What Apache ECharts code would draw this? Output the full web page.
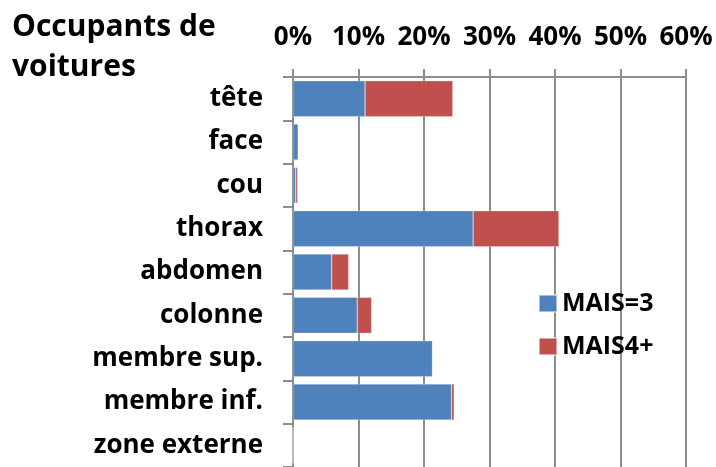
<!DOCTYPE html>
<html>
<head>
<meta charset="utf-8">
<script src="https://cdn.jsdelivr.net/npm/echarts@6/dist/echarts.min.js"></script>
<style>
html,body{margin:0;padding:0;background:#fff;}
#chart{width:716px;height:467px;}
</style>
</head>
<body>
<div id="chart"></div>
<script>
// zones du corps, de haut en bas
var zones = ['tête','face','cou','thorax','abdomen','colonne','membre sup.','membre inf.','zone externe'];
var mais3 = [11.0, 0.8, 0.4, 27.5, 5.9, 9.8, 21.3, 24.2, 0];
var mais4 = [13.4, 0, 0.3, 13.1, 2.6, 2.2, 0, 0.4, 0];
var xTicks = [0, 10, 20, 30, 40, 50, 60];

var FONT = 'Open Sans';
var GREY = '#8c8c8c';

var myChart = echarts.init(document.getElementById('chart'));
myChart.setOption({
	animation:false,
	title:{
		text:'Occupants de\nvoitures',
		left:7,
		top:2,
		textStyle:{fontFamily:FONT,fontWeight:'bold',fontSize:30,color:'#000',lineHeight:40}
	},
	legend:{
		orient:'vertical',
		left:533,
		top:286,
		itemWidth:18,
		itemHeight:17,
		itemGap:18,
		icon:'rect',
		textStyle:{fontFamily:FONT,fontWeight:'bold',fontSize:25,color:'#000'},
		data:['MAIS=3','MAIS4+']
	},
	grid:{left:293,right:30,top:77,bottom:-1},
	xAxis:{
		type:'value',
		position:'top',
		min:xTicks[0],
		max:xTicks[xTicks.length-1],
		interval:10,
		axisLine:{show:true,lineStyle:{color:GREY,width:2}},
		axisTick:{show:true,length:8,lineStyle:{color:GREY,width:2}},
		splitLine:{show:true,lineStyle:{color:GREY,width:2}},
		axisLabel:{
			formatter:'{value}%',
			margin:26,
			fontFamily:FONT,fontWeight:'bold',fontSize:26,color:'#000'
		}
	},
	yAxis:{
		type:'category',
		inverse:true,
		data:zones,
		axisLine:{show:true,lineStyle:{color:GREY,width:2}},
		axisTick:{show:true,length:10,lineStyle:{color:GREY,width:2}},
		axisLabel:{margin:30,fontFamily:FONT,fontWeight:'bold',fontSize:26,color:'#000'}
	},
	series:[
		{
			name:'MAIS=3',
			type:'bar',
			stack:'tot',
			barCategoryGap:'17%',
			itemStyle:{color:'#4F81BD',borderColor:'rgba(255,255,255,0.5)',borderWidth:0.5},
			data:mais3
		},
		{
			name:'MAIS4+',
			type:'bar',
			stack:'tot',
			itemStyle:{color:'#C0504D',borderColor:'rgba(255,255,255,0.5)',borderWidth:0.5},
			data:mais4
		}
	]
});
</script>
</body>
</html>
